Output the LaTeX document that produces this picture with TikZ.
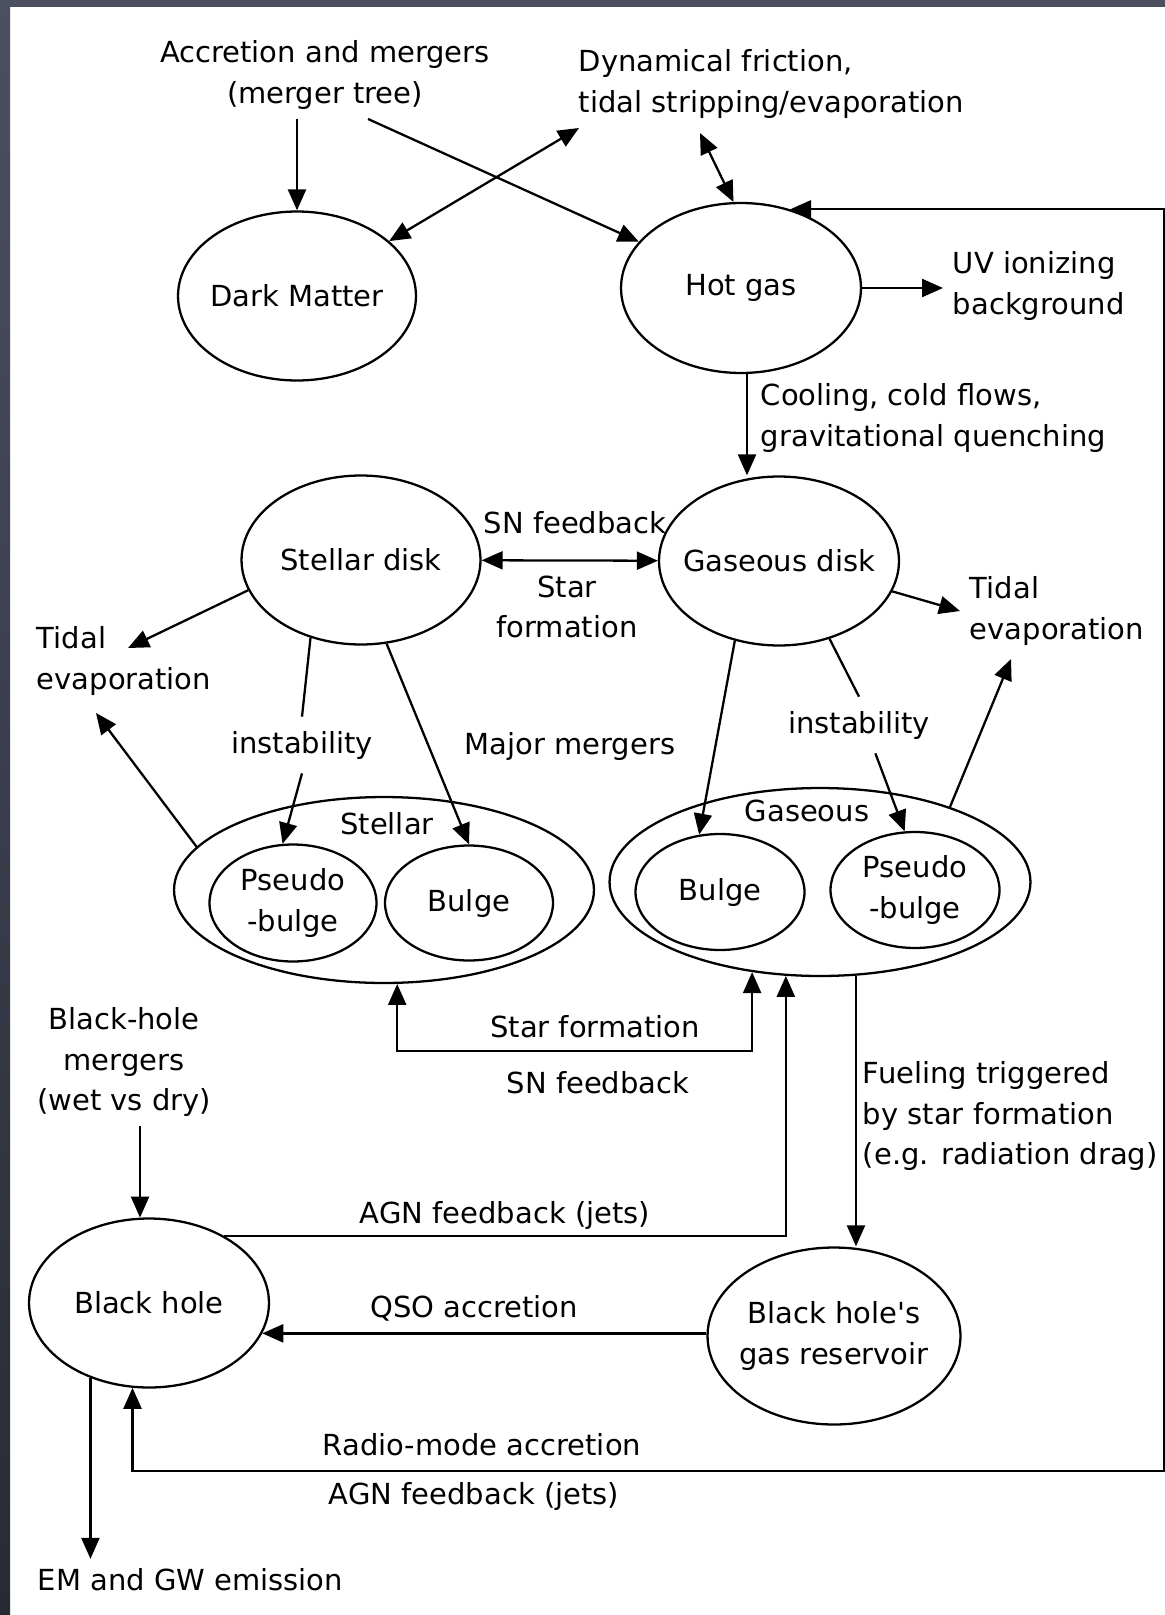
\documentclass[tikz,border=0pt]{standalone}
\usepackage{fontspec}
\setmainfont{DejaVu Sans}
\usetikzlibrary{shapes,arrows.meta,positioning}
\definecolor{slate}{RGB}{76,79,96}
\definecolor{slatedark}{RGB}{40,42,54}

\begin{document}
\begin{tikzpicture}[% one unit is one pixel of the slide, y runs downwards
    x=0.02cm, y=-0.02cm,
    line width=1.3pt,
    every node/.style={
        align=center,   % use this so that the "\\" for line break works
        inner sep=5pt,
        font=\fontsize{16.5}{22.8}\selectfont
    },
    blob/.style={ellipse,draw,inner sep=-0.5cm},  % negative sep keeps the minimum size
    note/.style={align=left,anchor=west},
    every edge/.style={draw,line width=1.3pt},
    >={Triangle[length=0.42cm,width=0.36cm]}
  ]
  \useasboundingbox (0,0) rectangle (1165,1615);
  % slide frame
  \fill[slate] (0,0) rectangle (1165,7);
  \shade[top color=slate,bottom color=slatedark] (0,0) rectangle (10,1615);

  % halo
  \node (acc) at (325,75) {Accretion and mergers\\(merger tree)};
  \node[note] (dyn) at (569,84) {Dynamical friction,\\tidal stripping/evaporation};
  \node[blob,minimum width=4.76cm,minimum height=3.38cm] (DM) at (297,296) {Dark Matter};
  \node[blob,minimum width=4.8cm,minimum height=3.4cm] (hot) at (741,288) {Hot gas};
  \node[note] (uv) at (943,286) {UV ionizing\\background};
  \node[note] (cool) at (751,418) {Cooling, cold flows,\\gravitational quenching};

  % disks
  \node[blob,minimum width=4.78cm,minimum height=3.38cm] (sdisk) at (361,560) {Stellar disk};
  \node[blob,minimum width=4.8cm,minimum height=3.38cm] (gdisk) at (779,561) {Gaseous disk};
  \node (snfb) at (575,523) {SN feedback};
  \node (sfm) at (567,607) {Star\\formation};
  \node[note] (ltidal) at (27,661) {Tidal\\evaporation};
  \node[note] (rtidal) at (960,611) {Tidal\\evaporation};
  \node[inner sep=7.5pt] (instabL) at (302,745) {instability};
  \node[inner sep=7.5pt] (instabR) at (859,725) {instability};
  \node (major) at (570,746) {Major mergers};

  % bulges
  \node[blob,minimum width=8.4cm,minimum height=3.72cm] (sgroup) at (384,890) {};
  \node (stlab) at (387,824) {Stellar};
  \node[blob,minimum width=3.34cm,minimum height=2.34cm] (spseudo) at (293,903) {Pseudo\\-bulge};
  \node[blob,minimum width=3.36cm,minimum height=2.3cm] (sbulge) at (469,903) {Bulge};
  \node[blob,minimum width=8.42cm,minimum height=3.76cm] (ggroup) at (820,882) {};
  \node (galab) at (807,811) {Gaseous};
  \node[blob,minimum width=3.38cm,minimum height=2.32cm] (gbulge) at (720,892) {Bulge};
  \node[blob,minimum width=3.38cm,minimum height=2.32cm] (gpseudo) at (915,890) {Pseudo\\-bulge};
  \node (sfb) at (595,1027) {Star formation};
  \node (snb) at (598,1083) {SN feedback};

  % black hole
  \node (bhm) at (124,1062) {Black-hole\\mergers\\(wet vs dry)};
  \node (agn1) at (505,1215) {AGN feedback (jets)};
  \node[note] (fuel) at (853,1116) {Fueling triggered\\by star formation\\(e.g. radiation drag)};
  \node[blob,minimum width=4.8cm,minimum height=3.38cm] (BH) at (149,1303) {Black hole};
  \node[blob,minimum width=5.06cm,minimum height=3.54cm] (res) at (834,1336) {Black hole\textquotesingle s\\gas reservoir};
  \node (qso) at (474,1308) {QSO accretion};
  \node (radio) at (482,1445) {Radio-mode accretion};
  \node (agn2) at (474,1496) {AGN feedback (jets)};
  \node[note] (em) at (28,1580) {EM and GW emission};

  % loose arrow ends
  \coordinate (ltidalA) at (128,648);
  \coordinate (ltidalB) at (96,713);
  \coordinate (rtidalB) at (1011,659);
  \coordinate (sfbend) at (575,1051);
  \coordinate (loopc) at (1164,1471);

  \path[->]
  (acc.south -| DM.north) edge (DM.north)
  ([xshift=0.86cm]acc.south) edge (hot)
  (DM) edge[<->] ([xshift=0.2cm]dyn.south west)
  ([xshift=2.62cm,yshift=-0.1cm]dyn.south west) edge[<->] (hot.95)
  (hot.east) edge (hot.east -| uv.west)
  ([xshift=0.12cm]hot.south) edge ([xshift=0.12cm]hot.south |- gdisk.north)
  (sdisk) edge[<->] (gdisk)
  (sdisk.195) edge (ltidalA)
  (sgroup.167) edge (ltidalB)
  (sdisk.237) edge[-] (instabL.north)
  (instabL.south) edge (spseudo.100)
  (sdisk.287) edge (sbulge.north)
  (gdisk.241) edge (gbulge.110)
  (gdisk.303) edge[-] (instabR.north)
  (instabR.-60) edge (gpseudo.100)
  (gdisk.-15) edge (rtidal.west)
  (ggroup.30) edge (rtidalB)
  (ggroup.291) edge (ggroup.291 |- res.north)
  (BH.-15 -| res.west) edge (BH.-15)
  (BH.96 |- bhm.south) edge (BH.96)
  (BH.232) edge (BH.232 |- em.north)
  ;
  \draw[<->] (sgroup.278) |- (sfbend) -| (ggroup.233);
  \draw[->] (BH.42) -| (ggroup.250);
  \draw[<->] (BH.259) |- (loopc) |- (hot.58);
\end{tikzpicture}
\end{document}
